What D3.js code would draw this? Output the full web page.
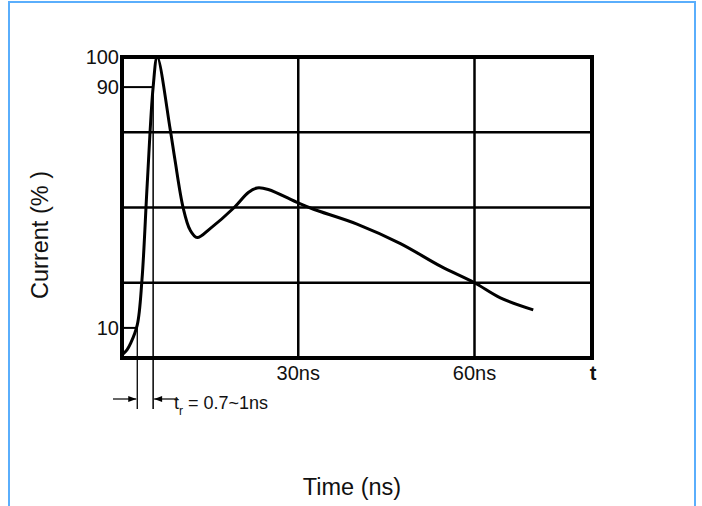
<!DOCTYPE html>
<html>
<head>
<meta charset="utf-8">
<script src="https://cdn.jsdelivr.net/npm/d3@7"></script>
<style>
  body { margin: 0; background: #fff; }
  text { font-family: "Liberation Sans", Arial, sans-serif; fill: #111; }
</style>
</head>
<body>
<div id="vis"></div>
<script>
// pulse waveform
const timeNs = [0, 0.85, 1.5, 2.6, 3.4, 4.3, 5.3, 6.0, 8.2, 9.0, 10.4, 11.6, 12.8, 15, 19.1, 21.5, 23, 24.9, 30, 32.5, 40, 47.4, 54.2, 60, 64.4, 70];
const currentPct = [1, 2.7, 5, 11, 26, 58, 90, 100, 76, 66, 50, 42.5, 40, 43, 50, 55, 56.5, 56, 51.5, 49.5, 44.5, 38, 30.5, 25, 20, 16];

const gridTimes = [30, 60];
const gridCurrents = [25, 50, 75];
const yTickLabels = [100, 90, 10];
const xTickLabels = ["30ns", "60ns"];
const riseStart = 2.6;   // 10% point
const riseEnd = 5.3;     // 90% point

const width = 702, height = 506;

const svg = d3.select('#vis')
  .append('svg')
  .attr('width', width)
  .attr('height', height);

// light blue frame
svg.append('rect')
  .attr('x', 9).attr('y', 2)
  .attr('width', 686).attr('height', 520)
  .attr('fill', 'none')
  .attr('stroke', '#5aaefc')
  .attr('stroke-width', 2);

const x = d3.scaleLinear().domain([0, 80]).range([122, 592]);
const y = d3.scaleLinear().domain([0, 100]).range([358, 57]);

// grid
svg.selectAll('.vgrid')
  .data(gridTimes)
  .join('line')
  .attr('x1', d => x(d)).attr('x2', d => x(d))
  .attr('y1', y(0)).attr('y2', y(100))
  .attr('stroke', '#000').attr('stroke-width', 2.5);

svg.selectAll('.hgrid')
  .data(gridCurrents)
  .join('line')
  .attr('x1', x(0)).attr('x2', x(80))
  .attr('y1', d => y(d)).attr('y2', d => y(d))
  .attr('stroke', '#000').attr('stroke-width', 2.5);

// 90 / 10 markers
svg.append('line')
  .attr('x1', x(0)).attr('x2', x(riseEnd))
  .attr('y1', y(90)).attr('y2', y(90))
  .attr('stroke', '#000').attr('stroke-width', 2);
svg.append('line')
  .attr('x1', x(0)).attr('x2', x(riseStart))
  .attr('y1', y(10)).attr('y2', y(10))
  .attr('stroke', '#000').attr('stroke-width', 2);

// thin rise-time lines
svg.append('line')
  .attr('x1', x(riseStart)).attr('x2', x(riseStart))
  .attr('y1', y(10)).attr('y2', 409)
  .attr('stroke', '#000').attr('stroke-width', 1.3);
svg.append('line')
  .attr('x1', x(riseEnd)).attr('x2', x(riseEnd))
  .attr('y1', y(90)).attr('y2', 409)
  .attr('stroke', '#000').attr('stroke-width', 1.5);

// box
svg.append('rect')
  .attr('x', x(0)).attr('y', y(100))
  .attr('width', x(80) - x(0)).attr('height', y(0) - y(100))
  .attr('fill', 'none')
  .attr('stroke', '#000').attr('stroke-width', 4);

// curve
const line = d3.line()
  .x((d, i) => x(timeNs[i]))
  .y(d => y(d))
  .curve(d3.curveCatmullRom.alpha(0.5));

svg.append('path')
  .datum(currentPct)
  .attr('d', line)
  .attr('fill', 'none')
  .attr('stroke', '#000')
  .attr('stroke-width', 3)
  .attr('stroke-linejoin', 'round');

// y labels
svg.selectAll('.ylab')
  .data(yTickLabels)
  .join('text')
  .attr('x', 119)
  .attr('y', d => y(d))
  .attr('dy', '0.36em')
  .attr('text-anchor', 'end')
  .attr('font-size', 20)
  .text(d => d);

// x labels
svg.selectAll('.xlab')
  .data(xTickLabels)
  .join('text')
  .attr('x', (d, i) => x(gridTimes[i]))
  .attr('y', 380)
  .attr('text-anchor', 'middle')
  .attr('font-size', 20)
  .text(d => d);

svg.append('text')
  .attr('x', 593).attr('y', 380)
  .attr('text-anchor', 'middle')
  .attr('font-size', 20)
  .attr('font-weight', 'bold')
  .text('t');

// rise-time arrows
const arrowY = 399;
svg.append('line')
  .attr('x1', 113).attr('x2', x(riseStart) - 1)
  .attr('y1', arrowY).attr('y2', arrowY)
  .attr('stroke', '#000').attr('stroke-width', 1.2);
svg.append('path')
  .attr('d', `M${x(riseStart) - 1},${arrowY} l-8,-3 l0,6 z`)
  .attr('fill', '#000');
svg.append('line')
  .attr('x1', x(riseEnd) + 1).attr('x2', 178)
  .attr('y1', arrowY).attr('y2', arrowY)
  .attr('stroke', '#000').attr('stroke-width', 1.2);
svg.append('path')
  .attr('d', `M${x(riseEnd) + 1},${arrowY} l8,-3 l0,6 z`)
  .attr('fill', '#000');

const tr = svg.append('text')
  .attr('x', 174).attr('y', 409)
  .attr('font-size', 18);
tr.append('tspan').text('t');
tr.append('tspan').attr('font-size', 12).attr('dy', 6).text('r');
tr.append('tspan').attr('dy', -6).text(' = 0.7~1ns');

// axis titles
svg.append('text')
  .attr('transform', 'translate(48,235) rotate(-90)')
  .attr('text-anchor', 'middle')
  .attr('font-size', 23.5)
  .text('Current (% )');

svg.append('text')
  .attr('x', 352).attr('y', 495)
  .attr('text-anchor', 'middle')
  .attr('font-size', 23.5)
  .text('Time (ns)');
</script>
</body>
</html>
